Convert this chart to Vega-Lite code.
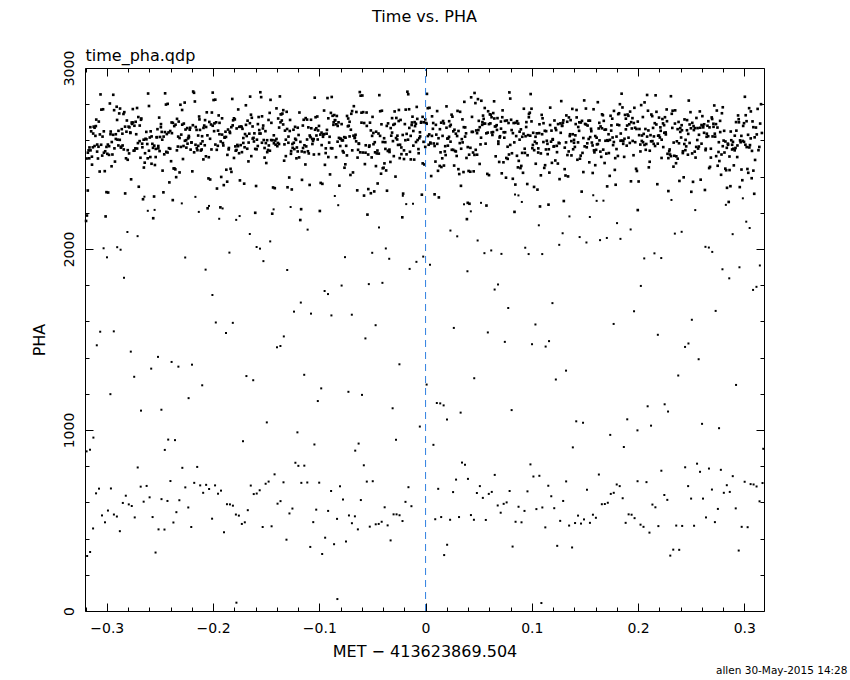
{
"$schema": "https://vega.github.io/schema/vega-lite/v6.json",
"width": 679, "height": 543,
"autosize": {"type": "none"},
"padding": {"left": 85, "top": 68, "right": 86, "bottom": 69},
"background": "white",
"title": {"text": "Time vs. PHA", "anchor": "middle", "font": "DejaVu Sans", "fontSize": 16, "fontWeight": "normal", "color": "#000", "offset": 9, "baseline": "alphabetic"},
"config": {
  "view": {"stroke": "#000", "strokeWidth": 1},
  "axis": {"domain": false, "grid": false, "tickColor": "#000", "labelColor": "#000", "titleColor": "#000", "labelFont": "DejaVu Sans", "titleFont": "DejaVu Sans", "labelFontSize": 14, "titleFontSize": 16, "titleFontWeight": "normal", "tickWidth": 1, "labelFlush": false, "labelOverlap": false}
},
"resolve": {"scale": {"x": "independent", "y": "independent"}},
"layer": [
{
"encoding": {
  "x": {"field": "x", "type": "quantitative", "scale": {"domain": [-0.3205, 0.3185], "nice": false, "zero": false},
    "axis": {"orient": "bottom", "values": [-0.32,-0.3,-0.28,-0.26,-0.24,-0.22,-0.2,-0.18,-0.16,-0.14,-0.12,-0.1,-0.08,-0.06,-0.04,-0.02,0,0.02,0.04,0.06,0.08,0.1,0.12,0.14,0.16,0.18,0.2,0.22,0.24,0.26,0.28,0.3],
      "labelExpr": "abs(datum.value*10 - round(datum.value*10)) < 0.001 ? format(datum.value, '.1~f') : ''",
      "tickSize": {"condition": {"test": "abs(datum.value*10 - round(datum.value*10)) < 0.001", "value": -8}, "value": -4},
      "labelPadding": 29, "labelBaseline": "alphabetic",
      "title": "MET − 413623869.504", "titleX": 339.5, "titleY": 45, "titleBaseline": "alphabetic", "titleAlign": "center"}},
  "y": {"field": "y", "type": "quantitative", "scale": {"domain": [0, 3000], "nice": false, "zero": false},
    "axis": {"orient": "left", "values": [0,200,400,600,800,1000,1200,1400,1600,1800,2000,2200,2400,2600,2800,3000],
      "labelExpr": "datum.value % 1000 === 0 ? format(datum.value, 'd') : ''",
      "tickSize": {"condition": {"test": "datum.value % 1000 === 0", "value": -8}, "value": -4},
      "labelAngle": -90, "labelAlign": "center", "labelBaseline": "alphabetic", "labelPadding": 19.5,
      "title": "PHA", "titleX": -41, "titleY": 271.5, "titleAngle": -90, "titleAlign": "center", "titleBaseline": "alphabetic"}}
},
"layer": [
{
"data": {"values": [
{"x":-0.3195,"y":2155},{"x":-0.3187,"y":2185},{"x":-0.3179,"y":2323},{"x":-0.3171,"y":2545},{"x":-0.3163,"y":2561},{"x":-0.3155,"y":2673},{"x":-0.3147,"y":2650},{"x":-0.3139,"y":2466},{"x":-0.3131,"y":2562},{"x":-0.3123,"y":2676},
{"x":-0.3115,"y":2670},{"x":-0.3107,"y":2625},{"x":-0.3099,"y":2715},{"x":-0.3091,"y":2538},{"x":-0.3083,"y":2500},{"x":-0.3075,"y":2704},{"x":-0.3067,"y":2428},{"x":-0.3059,"y":2854},{"x":-0.3051,"y":2770},{"x":-0.3043,"y":2516},
{"x":-0.3035,"y":2772},{"x":-0.3027,"y":2532},{"x":-0.3019,"y":2430},{"x":-0.3011,"y":2180},{"x":-0.3003,"y":2314},{"x":-0.2995,"y":2526},{"x":-0.2987,"y":2312},{"x":-0.2979,"y":2520},{"x":-0.2971,"y":2804},{"x":-0.2963,"y":2649},
{"x":-0.2955,"y":2457},{"x":-0.2947,"y":2522},{"x":-0.2939,"y":2852},{"x":-0.2931,"y":2767},{"x":-0.2923,"y":2483},{"x":-0.2915,"y":2634},{"x":-0.2907,"y":2786},{"x":-0.2899,"y":2604},{"x":-0.2891,"y":2572},{"x":-0.2883,"y":2749},
{"x":-0.2875,"y":2776},{"x":-0.2867,"y":2560},{"x":-0.2859,"y":2662},{"x":-0.2851,"y":2572},{"x":-0.2843,"y":2746},{"x":-0.2835,"y":2756},{"x":-0.2827,"y":2307},{"x":-0.2819,"y":2501},{"x":-0.2811,"y":2710},{"x":-0.2803,"y":2493},
{"x":-0.2795,"y":2676},{"x":-0.2787,"y":2672},{"x":-0.2779,"y":2644},{"x":-0.2771,"y":2385},{"x":-0.2763,"y":2691},{"x":-0.2755,"y":2773},{"x":-0.2747,"y":2543},{"x":-0.2739,"y":2544},{"x":-0.2731,"y":2556},{"x":-0.2723,"y":2634},
{"x":-0.2715,"y":2779},{"x":-0.2707,"y":2585},{"x":-0.2699,"y":2344},{"x":-0.2691,"y":2596},{"x":-0.2683,"y":2504},{"x":-0.2675,"y":2721},{"x":-0.2667,"y":2582},{"x":-0.2659,"y":2275},{"x":-0.2651,"y":2450},{"x":-0.2643,"y":2477},
{"x":-0.2635,"y":2609},{"x":-0.2627,"y":2606},{"x":-0.2619,"y":2580},{"x":-0.2611,"y":2859},{"x":-0.2603,"y":2790},{"x":-0.2595,"y":2616},{"x":-0.2587,"y":2650},{"x":-0.2579,"y":2471},{"x":-0.2571,"y":2581},{"x":-0.2563,"y":2170},
{"x":-0.2555,"y":2290},{"x":-0.2547,"y":2464},{"x":-0.2539,"y":2553},{"x":-0.2531,"y":2617},{"x":-0.2523,"y":2662},{"x":-0.2515,"y":2569},{"x":-0.2507,"y":2726},{"x":-0.2499,"y":2619},{"x":-0.2491,"y":2673},{"x":-0.2483,"y":2647},
{"x":-0.2475,"y":2433},{"x":-0.2467,"y":2313},{"x":-0.2459,"y":2523},{"x":-0.2451,"y":2860},{"x":-0.2443,"y":2798},{"x":-0.2435,"y":2635},{"x":-0.2427,"y":2802},{"x":-0.2419,"y":2644},{"x":-0.2411,"y":2368},{"x":-0.2403,"y":2652},
{"x":-0.2395,"y":2485},{"x":-0.2387,"y":2640},{"x":-0.2379,"y":2270},{"x":-0.2371,"y":2445},{"x":-0.2363,"y":2445},{"x":-0.2355,"y":2440},{"x":-0.2347,"y":2397},{"x":-0.2339,"y":2719},{"x":-0.2331,"y":2566},{"x":-0.2323,"y":2704},
{"x":-0.2315,"y":2423},{"x":-0.2307,"y":2797},{"x":-0.2299,"y":2632},{"x":-0.2291,"y":2768},{"x":-0.2283,"y":2497},{"x":-0.2275,"y":2693},{"x":-0.2267,"y":2809},{"x":-0.2259,"y":2660},{"x":-0.2251,"y":2560},{"x":-0.2243,"y":2668},
{"x":-0.2235,"y":2611},{"x":-0.2227,"y":2617},{"x":-0.2219,"y":2659},{"x":-0.2211,"y":2549},{"x":-0.2203,"y":2589},{"x":-0.2195,"y":2429},{"x":-0.2187,"y":2870},{"x":-0.2179,"y":2863},{"x":-0.2171,"y":2815},{"x":-0.2163,"y":2674},
{"x":-0.2155,"y":2658},{"x":-0.2147,"y":2546},{"x":-0.2139,"y":2570},{"x":-0.2131,"y":2732},{"x":-0.2123,"y":2658},{"x":-0.2115,"y":2544},{"x":-0.2107,"y":2550},{"x":-0.2099,"y":2595},{"x":-0.2091,"y":2495},{"x":-0.2083,"y":2682},
{"x":-0.2075,"y":2712},{"x":-0.2067,"y":2512},{"x":-0.2059,"y":2755},{"x":-0.2051,"y":2225},{"x":-0.2043,"y":2390},{"x":-0.2035,"y":2702},{"x":-0.2027,"y":2384},{"x":-0.2019,"y":2688},{"x":-0.2011,"y":2754},{"x":-0.2003,"y":2864},
{"x":-0.1995,"y":2823},{"x":-0.1987,"y":2694},{"x":-0.1979,"y":2825},{"x":-0.1971,"y":2700},{"x":-0.1963,"y":2334},{"x":-0.1955,"y":2570},{"x":-0.1947,"y":2738},{"x":-0.1939,"y":2697},{"x":-0.1931,"y":2230},{"x":-0.1923,"y":2398},
{"x":-0.1915,"y":2722},{"x":-0.1907,"y":2585},{"x":-0.1899,"y":2353},{"x":-0.1891,"y":2615},{"x":-0.1883,"y":2648},{"x":-0.1875,"y":2438},{"x":-0.1867,"y":2372},{"x":-0.1859,"y":2660},{"x":-0.1851,"y":2558},{"x":-0.1843,"y":2648},
{"x":-0.1835,"y":2443},{"x":-0.1827,"y":2426},{"x":-0.1819,"y":2829},{"x":-0.1811,"y":2711},{"x":-0.1803,"y":2503},{"x":-0.1795,"y":2716},{"x":-0.1787,"y":2543},{"x":-0.1779,"y":2547},{"x":-0.1771,"y":2575},{"x":-0.1763,"y":2771},
{"x":-0.1755,"y":2529},{"x":-0.1747,"y":2379},{"x":-0.1739,"y":2677},{"x":-0.1731,"y":2675},{"x":-0.1723,"y":2664},{"x":-0.1715,"y":2586},{"x":-0.1707,"y":2361},{"x":-0.1699,"y":2635},{"x":-0.1691,"y":2794},{"x":-0.1683,"y":2624},
{"x":-0.1675,"y":2709},{"x":-0.1667,"y":2484},{"x":-0.1659,"y":2637},{"x":-0.1651,"y":2842},{"x":-0.1643,"y":2742},{"x":-0.1635,"y":2725},{"x":-0.1627,"y":2610},{"x":-0.1619,"y":2614},{"x":-0.1611,"y":2639},{"x":-0.1603,"y":2200},
{"x":-0.1595,"y":2348},{"x":-0.1587,"y":2604},{"x":-0.1579,"y":2569},{"x":-0.1571,"y":2729},{"x":-0.1563,"y":2638},{"x":-0.1555,"y":2866},{"x":-0.1547,"y":2839},{"x":-0.1539,"y":2733},{"x":-0.1531,"y":2666},{"x":-0.1523,"y":2602},
{"x":-0.1515,"y":2558},{"x":-0.1507,"y":2651},{"x":-0.1499,"y":2475},{"x":-0.1491,"y":2601},{"x":-0.1483,"y":2547},{"x":-0.1475,"y":2572},{"x":-0.1467,"y":2752},{"x":-0.1459,"y":2824},{"x":-0.1451,"y":2697},{"x":-0.1443,"y":2195},
{"x":-0.1435,"y":2340},{"x":-0.1427,"y":2584},{"x":-0.1419,"y":2336},{"x":-0.1411,"y":2576},{"x":-0.1403,"y":2777},{"x":-0.1395,"y":2568},{"x":-0.1387,"y":2721},{"x":-0.1379,"y":2580},{"x":-0.1371,"y":2843},{"x":-0.1363,"y":2744},
{"x":-0.1355,"y":2745},{"x":-0.1347,"y":2748},{"x":-0.1339,"y":2767},{"x":-0.1331,"y":2488},{"x":-0.1323,"y":2654},{"x":-0.1315,"y":2513},{"x":-0.1307,"y":2758},{"x":-0.1299,"y":2341},{"x":-0.1291,"y":2587},{"x":-0.1283,"y":2395},
{"x":-0.1275,"y":2713},{"x":-0.1267,"y":2526},{"x":-0.1259,"y":2329},{"x":-0.1251,"y":2559},{"x":-0.1243,"y":2659},{"x":-0.1235,"y":2552},{"x":-0.1227,"y":2609},{"x":-0.1219,"y":2603},{"x":-0.1211,"y":2561},{"x":-0.1203,"y":2670},
{"x":-0.1195,"y":2630},{"x":-0.1187,"y":2754},{"x":-0.1179,"y":2160},{"x":-0.1171,"y":2220},{"x":-0.1163,"y":2382},{"x":-0.1155,"y":2682},{"x":-0.1147,"y":2714},{"x":-0.1139,"y":2535},{"x":-0.1131,"y":2467},{"x":-0.1123,"y":2567},
{"x":-0.1115,"y":2715},{"x":-0.1107,"y":2540},{"x":-0.1099,"y":2528},{"x":-0.1091,"y":2354},{"x":-0.1083,"y":2618},{"x":-0.1075,"y":2667},{"x":-0.1067,"y":2608},{"x":-0.1059,"y":2597},{"x":-0.1051,"y":2522},{"x":-0.1043,"y":2836},
{"x":-0.1035,"y":2728},{"x":-0.1027,"y":2627},{"x":-0.1019,"y":2732},{"x":-0.1011,"y":2655},{"x":-0.1003,"y":2524},{"x":-0.0995,"y":2210},{"x":-0.0987,"y":2365},{"x":-0.0979,"y":2643},{"x":-0.0971,"y":2360},{"x":-0.0963,"y":2632},
{"x":-0.0955,"y":2765},{"x":-0.0947,"y":2465},{"x":-0.0939,"y":2556},{"x":-0.0931,"y":2637},{"x":-0.0923,"y":2834},{"x":-0.0915,"y":2722},{"x":-0.0907,"y":2588},{"x":-0.0899,"y":2412},{"x":-0.0891,"y":2752},{"x":-0.0883,"y":2840},
{"x":-0.0875,"y":2736},{"x":-0.0867,"y":2686},{"x":-0.0859,"y":2740},{"x":-0.0851,"y":2711},{"x":-0.0843,"y":2507},{"x":-0.0835,"y":2735},{"x":-0.0827,"y":2680},{"x":-0.0819,"y":2700},{"x":-0.0811,"y":2350},{"x":-0.0803,"y":2610},
{"x":-0.0795,"y":2608},{"x":-0.0787,"y":2600},{"x":-0.0779,"y":2541},{"x":-0.0771,"y":2533},{"x":-0.0763,"y":2449},{"x":-0.0755,"y":2468},{"x":-0.0747,"y":2570},{"x":-0.0739,"y":2735},{"x":-0.0731,"y":2678},{"x":-0.0723,"y":2681},
{"x":-0.0715,"y":2703},{"x":-0.0707,"y":2409},{"x":-0.0699,"y":2747},{"x":-0.0691,"y":2762},{"x":-0.0683,"y":2423},{"x":-0.0675,"y":2789},{"x":-0.0667,"y":2613},{"x":-0.0659,"y":2631},{"x":-0.0651,"y":2757},{"x":-0.0643,"y":2324},
{"x":-0.0635,"y":2548},{"x":-0.0627,"y":2581},{"x":-0.0619,"y":2867},{"x":-0.0611,"y":2847},{"x":-0.0603,"y":2753},{"x":-0.0595,"y":2848},{"x":-0.0587,"y":2756},{"x":-0.0579,"y":2295},{"x":-0.0571,"y":2469},{"x":-0.0563,"y":2573},
{"x":-0.0555,"y":2754},{"x":-0.0547,"y":2190},{"x":-0.0539,"y":2331},{"x":-0.0531,"y":2565},{"x":-0.0523,"y":2698},{"x":-0.0515,"y":2308},{"x":-0.0507,"y":2506},{"x":-0.0499,"y":2730},{"x":-0.0491,"y":2641},{"x":-0.0483,"y":2318},
{"x":-0.0475,"y":2534},{"x":-0.0467,"y":2458},{"x":-0.0459,"y":2528},{"x":-0.0451,"y":2362},{"x":-0.0443,"y":2638},{"x":-0.0435,"y":2850},{"x":-0.0427,"y":2761},{"x":-0.0419,"y":2416},{"x":-0.0411,"y":2764},{"x":-0.0403,"y":2446},
{"x":-0.0395,"y":2449},{"x":-0.0387,"y":2473},{"x":-0.0379,"y":2590},{"x":-0.0371,"y":2434},{"x":-0.0363,"y":2322},{"x":-0.0355,"y":2542},{"x":-0.0347,"y":2542},{"x":-0.0339,"y":2536},{"x":-0.0331,"y":2481},{"x":-0.0323,"y":2626},
{"x":-0.0315,"y":2723},{"x":-0.0307,"y":2596},{"x":-0.0299,"y":2513},{"x":-0.0291,"y":2760},{"x":-0.0283,"y":2400},{"x":-0.0275,"y":2724},{"x":-0.0267,"y":2605},{"x":-0.0259,"y":2575},{"x":-0.0251,"y":2768},{"x":-0.0243,"y":2502},
{"x":-0.0235,"y":2713},{"x":-0.0227,"y":2524},{"x":-0.0219,"y":2175},{"x":-0.0211,"y":2306},{"x":-0.0203,"y":2497},{"x":-0.0195,"y":2690},{"x":-0.0187,"y":2770},{"x":-0.0179,"y":2523},{"x":-0.0171,"y":2869},{"x":-0.0163,"y":2855},
{"x":-0.0155,"y":2772},{"x":-0.0147,"y":2537},{"x":-0.0139,"y":2495},{"x":-0.0131,"y":2685},{"x":-0.0123,"y":2731},{"x":-0.0115,"y":2652},{"x":-0.0107,"y":2494},{"x":-0.0099,"y":2679},{"x":-0.0091,"y":2692},{"x":-0.0083,"y":2785},
{"x":-0.0075,"y":2602},{"x":-0.0067,"y":2552},{"x":-0.0059,"y":2612},{"x":-0.0051,"y":2622},{"x":-0.0043,"y":2698},{"x":-0.0035,"y":2300},{"x":-0.0027,"y":2473},{"x":-0.0019,"y":2592},{"x":-0.0011,"y":2467},{"x":-0.0003,"y":2564},
{"x":0.0005,"y":2696},{"x":0.0013,"y":2857},{"x":0.0021,"y":2778},{"x":0.0029,"y":2576},{"x":0.0037,"y":2780},{"x":0.0045,"y":2588},{"x":0.0053,"y":2403},{"x":0.0061,"y":2733},{"x":0.0069,"y":2664},{"x":0.0077,"y":2583},
{"x":0.0085,"y":2302},{"x":0.0093,"y":2483},{"x":0.0101,"y":2632},{"x":0.0109,"y":2762},{"x":0.0117,"y":2432},{"x":0.0125,"y":2285},{"x":0.0133,"y":2459},{"x":0.0141,"y":2534},{"x":0.0149,"y":2453},{"x":0.0157,"y":2501},
{"x":0.0165,"y":2707},{"x":0.0173,"y":2461},{"x":0.0181,"y":2539},{"x":0.0189,"y":2519},{"x":0.0197,"y":2788},{"x":0.0205,"y":2610},{"x":0.0213,"y":2611},{"x":0.0221,"y":2620},{"x":0.0229,"y":2678},{"x":0.0237,"y":2686},
{"x":0.0245,"y":2742},{"x":0.0253,"y":2731},{"x":0.0261,"y":2650},{"x":0.0269,"y":2461},{"x":0.0277,"y":2542},{"x":0.0285,"y":2539},{"x":0.0293,"y":2514},{"x":0.0301,"y":2763},{"x":0.0309,"y":2441},{"x":0.0317,"y":2414},
{"x":0.0325,"y":2758},{"x":0.0333,"y":2349},{"x":0.0341,"y":2607},{"x":0.0349,"y":2589},{"x":0.0357,"y":2425},{"x":0.0365,"y":2813},{"x":0.0373,"y":2672},{"x":0.0381,"y":2639},{"x":0.0389,"y":2165},{"x":0.0397,"y":2255},
{"x":0.0405,"y":2431},{"x":0.0413,"y":2250},{"x":0.0421,"y":2427},{"x":0.0429,"y":2838},{"x":0.0437,"y":2730},{"x":0.0445,"y":2647},{"x":0.0453,"y":2429},{"x":0.0461,"y":2862},{"x":0.0469,"y":2806},{"x":0.0477,"y":2655},
{"x":0.0485,"y":2521},{"x":0.0493,"y":2828},{"x":0.0501,"y":2708},{"x":0.0509,"y":2470},{"x":0.0517,"y":2578},{"x":0.0525,"y":2819},{"x":0.0533,"y":2686},{"x":0.0541,"y":2737},{"x":0.0549,"y":2692},{"x":0.0557,"y":2779},
{"x":0.0565,"y":2582},{"x":0.0573,"y":2240},{"x":0.0581,"y":2415},{"x":0.0589,"y":2761},{"x":0.0597,"y":2408},{"x":0.0605,"y":2744},{"x":0.0613,"y":2742},{"x":0.0621,"y":2728},{"x":0.0629,"y":2630},{"x":0.0637,"y":2751},
{"x":0.0645,"y":2816},{"x":0.0653,"y":2677},{"x":0.0661,"y":2678},{"x":0.0669,"y":2684},{"x":0.0677,"y":2723},{"x":0.0685,"y":2594},{"x":0.0693,"y":2481},{"x":0.0701,"y":2623},{"x":0.0709,"y":2704},{"x":0.0717,"y":2418},
{"x":0.0725,"y":2766},{"x":0.0733,"y":2479},{"x":0.0741,"y":2615},{"x":0.0749,"y":2645},{"x":0.0757,"y":2394},{"x":0.0765,"y":2710},{"x":0.0773,"y":2498},{"x":0.0781,"y":2696},{"x":0.0789,"y":2865},{"x":0.0797,"y":2831},
{"x":0.0805,"y":2714},{"x":0.0813,"y":2529},{"x":0.0821,"y":2388},{"x":0.0829,"y":2696},{"x":0.0837,"y":2205},{"x":0.0845,"y":2356},{"x":0.0853,"y":2624},{"x":0.0861,"y":2706},{"x":0.0869,"y":2451},{"x":0.0877,"y":2487},
{"x":0.0885,"y":2648},{"x":0.0893,"y":2447},{"x":0.0901,"y":2459},{"x":0.0909,"y":2531},{"x":0.0917,"y":2421},{"x":0.0925,"y":2775},{"x":0.0933,"y":2554},{"x":0.0941,"y":2623},{"x":0.0949,"y":2701},{"x":0.0957,"y":2359},
{"x":0.0965,"y":2629},{"x":0.0973,"y":2746},{"x":0.0981,"y":2753},{"x":0.0989,"y":2856},{"x":0.0997,"y":2775},{"x":0.1005,"y":2557},{"x":0.1013,"y":2642},{"x":0.1021,"y":2343},{"x":0.1029,"y":2593},{"x":0.1037,"y":2471},
{"x":0.1045,"y":2584},{"x":0.1053,"y":2328},{"x":0.1061,"y":2556},{"x":0.1069,"y":2640},{"x":0.1077,"y":2235},{"x":0.1085,"y":2407},{"x":0.1093,"y":2741},{"x":0.1101,"y":2722},{"x":0.1109,"y":2591},{"x":0.1117,"y":2448},
{"x":0.1125,"y":2463},{"x":0.1133,"y":2550},{"x":0.1141,"y":2598},{"x":0.1149,"y":2524},{"x":0.1157,"y":2245},{"x":0.1165,"y":2422},{"x":0.1173,"y":2781},{"x":0.1181,"y":2593},{"x":0.1189,"y":2476},{"x":0.1197,"y":2604},
{"x":0.1205,"y":2566},{"x":0.1213,"y":2710},{"x":0.1221,"y":2489},{"x":0.1229,"y":2657},{"x":0.1237,"y":2535},{"x":0.1245,"y":2472},{"x":0.1253,"y":2587},{"x":0.1261,"y":2386},{"x":0.1269,"y":2694},{"x":0.1277,"y":2817},
{"x":0.1285,"y":2680},{"x":0.1293,"y":2698},{"x":0.1301,"y":2265},{"x":0.1309,"y":2441},{"x":0.1317,"y":2406},{"x":0.1325,"y":2738},{"x":0.1333,"y":2703},{"x":0.1341,"y":2401},{"x":0.1349,"y":2727},{"x":0.1357,"y":2624},
{"x":0.1365,"y":2712},{"x":0.1373,"y":2517},{"x":0.1381,"y":2774},{"x":0.1389,"y":2551},{"x":0.1397,"y":2603},{"x":0.1405,"y":2564},{"x":0.1413,"y":2690},{"x":0.1421,"y":2768},{"x":0.1429,"y":2493},{"x":0.1437,"y":2674},
{"x":0.1445,"y":2653},{"x":0.1453,"y":2499},{"x":0.1461,"y":2699},{"x":0.1469,"y":2317},{"x":0.1477,"y":2531},{"x":0.1485,"y":2425},{"x":0.1493,"y":2821},{"x":0.1501,"y":2691},{"x":0.1509,"y":2776},{"x":0.1517,"y":2562},
{"x":0.1525,"y":2682},{"x":0.1533,"y":2709},{"x":0.1541,"y":2479},{"x":0.1549,"y":2618},{"x":0.1557,"y":2664},{"x":0.1565,"y":2588},{"x":0.1573,"y":2420},{"x":0.1581,"y":2772},{"x":0.1589,"y":2534},{"x":0.1597,"y":2463},
{"x":0.1605,"y":2548},{"x":0.1613,"y":2578},{"x":0.1621,"y":2811},{"x":0.1629,"y":2666},{"x":0.1637,"y":2600},{"x":0.1645,"y":2538},{"x":0.1653,"y":2509},{"x":0.1661,"y":2744},{"x":0.1669,"y":2739},{"x":0.1677,"y":2708},
{"x":0.1685,"y":2475},{"x":0.1693,"y":2598},{"x":0.1701,"y":2527},{"x":0.1709,"y":2346},{"x":0.1717,"y":2598},{"x":0.1725,"y":2530},{"x":0.1733,"y":2404},{"x":0.1741,"y":2736},{"x":0.1749,"y":2683},{"x":0.1757,"y":2720},
{"x":0.1765,"y":2574},{"x":0.1773,"y":2763},{"x":0.1781,"y":2437},{"x":0.1789,"y":2355},{"x":0.1797,"y":2621},{"x":0.1805,"y":2687},{"x":0.1813,"y":2745},{"x":0.1821,"y":2750},{"x":0.1829,"y":2800},{"x":0.1837,"y":2638},
{"x":0.1845,"y":2858},{"x":0.1853,"y":2782},{"x":0.1861,"y":2596},{"x":0.1869,"y":2509},{"x":0.1877,"y":2741},{"x":0.1885,"y":2720},{"x":0.1893,"y":2571},{"x":0.1901,"y":2743},{"x":0.1909,"y":2736},{"x":0.1917,"y":2689},
{"x":0.1925,"y":2759},{"x":0.1933,"y":2374},{"x":0.1941,"y":2666},{"x":0.1949,"y":2597},{"x":0.1957,"y":2518},{"x":0.1965,"y":2780},{"x":0.1973,"y":2590},{"x":0.1981,"y":2443},{"x":0.1989,"y":2431},{"x":0.1997,"y":2215},
{"x":0.2005,"y":2373},{"x":0.2013,"y":2663},{"x":0.2021,"y":2577},{"x":0.2029,"y":2795},{"x":0.2037,"y":2627},{"x":0.2045,"y":2729},{"x":0.2053,"y":2636},{"x":0.2061,"y":2810},{"x":0.2069,"y":2663},{"x":0.2077,"y":2580},
{"x":0.2085,"y":2851},{"x":0.2093,"y":2764},{"x":0.2101,"y":2451},{"x":0.2109,"y":2482},{"x":0.2117,"y":2629},{"x":0.2125,"y":2743},{"x":0.2133,"y":2734},{"x":0.2141,"y":2669},{"x":0.2149,"y":2622},{"x":0.2157,"y":2695},
{"x":0.2165,"y":2849},{"x":0.2173,"y":2758},{"x":0.2181,"y":2358},{"x":0.2189,"y":2626},{"x":0.2197,"y":2726},{"x":0.2205,"y":2616},{"x":0.2213,"y":2653},{"x":0.2221,"y":2503},{"x":0.2229,"y":2718},{"x":0.2237,"y":2563},
{"x":0.2245,"y":2684},{"x":0.2253,"y":2728},{"x":0.2261,"y":2633},{"x":0.2269,"y":2771},{"x":0.2277,"y":2526},{"x":0.2285,"y":2320},{"x":0.2293,"y":2540},{"x":0.2301,"y":2522},{"x":0.2309,"y":2844},{"x":0.2317,"y":2747},
{"x":0.2325,"y":2764},{"x":0.2333,"y":2455},{"x":0.2341,"y":2515},{"x":0.2349,"y":2766},{"x":0.2357,"y":2474},{"x":0.2365,"y":2595},{"x":0.2373,"y":2499},{"x":0.2381,"y":2702},{"x":0.2389,"y":2376},{"x":0.2397,"y":2668},
{"x":0.2405,"y":2616},{"x":0.2413,"y":2656},{"x":0.2421,"y":2530},{"x":0.2429,"y":2396},{"x":0.2437,"y":2716},{"x":0.2445,"y":2546},{"x":0.2453,"y":2567},{"x":0.2461,"y":2712},{"x":0.2469,"y":2521},{"x":0.2477,"y":2820},
{"x":0.2485,"y":2688},{"x":0.2493,"y":2756},{"x":0.2501,"y":2316},{"x":0.2509,"y":2528},{"x":0.2517,"y":2371},{"x":0.2525,"y":2657},{"x":0.2533,"y":2538},{"x":0.2541,"y":2505},{"x":0.2549,"y":2724},{"x":0.2557,"y":2602},
{"x":0.2565,"y":2555},{"x":0.2573,"y":2631},{"x":0.2581,"y":2760},{"x":0.2589,"y":2383},{"x":0.2597,"y":2685},{"x":0.2605,"y":2734},{"x":0.2613,"y":2672},{"x":0.2621,"y":2642},{"x":0.2629,"y":2326},{"x":0.2637,"y":2554},
{"x":0.2645,"y":2620},{"x":0.2653,"y":2681},{"x":0.2661,"y":2706},{"x":0.2669,"y":2447},{"x":0.2677,"y":2454},{"x":0.2685,"y":2505},{"x":0.2693,"y":2727},{"x":0.2701,"y":2622},{"x":0.2709,"y":2692},{"x":0.2717,"y":2793},
{"x":0.2725,"y":2621},{"x":0.2733,"y":2690},{"x":0.2741,"y":2765},{"x":0.2749,"y":2460},{"x":0.2757,"y":2536},{"x":0.2765,"y":2486},{"x":0.2773,"y":2646},{"x":0.2781,"y":2410},{"x":0.2789,"y":2750},{"x":0.2797,"y":2783},
{"x":0.2805,"y":2599},{"x":0.2813,"y":2533},{"x":0.2821,"y":2444},{"x":0.2829,"y":2435},{"x":0.2837,"y":2338},{"x":0.2845,"y":2582},{"x":0.2853,"y":2260},{"x":0.2861,"y":2436},{"x":0.2869,"y":2347},{"x":0.2877,"y":2601},
{"x":0.2885,"y":2550},{"x":0.2893,"y":2592},{"x":0.2901,"y":2462},{"x":0.2909,"y":2545},{"x":0.2917,"y":2558},{"x":0.2925,"y":2654},{"x":0.2933,"y":2508},{"x":0.2941,"y":2738},{"x":0.2949,"y":2700},{"x":0.2957,"y":2342},
{"x":0.2965,"y":2590},{"x":0.2973,"y":2439},{"x":0.2981,"y":2380},{"x":0.2989,"y":2680},{"x":0.2997,"y":2695},{"x":0.3005,"y":2841},{"x":0.3013,"y":2739},{"x":0.3021,"y":2706},{"x":0.3029,"y":2442},{"x":0.3037,"y":2421},
{"x":0.3045,"y":2778},{"x":0.3053,"y":2574},{"x":0.3061,"y":2760},{"x":0.3069,"y":2391},{"x":0.3077,"y":2705},{"x":0.3085,"y":2433},{"x":0.3093,"y":2305},{"x":0.3101,"y":2492},{"x":0.3109,"y":2671},{"x":0.3117,"y":2633},
{"x":0.3125,"y":2774},{"x":0.3133,"y":2546},{"x":0.3141,"y":2564},{"x":0.3149,"y":2693},{"x":0.3157,"y":2800},{"x":0.3165,"y":2641},
{"x":-0.319,"y":2500},{"x":-0.3165,"y":2501},{"x":-0.314,"y":2510},{"x":-0.3115,"y":2569},{"x":-0.309,"y":2577},{"x":-0.3065,"y":2633},{"x":-0.304,"y":2621},{"x":-0.3015,"y":2540},{"x":-0.299,"y":2577},{"x":-0.2965,"y":2634},{"x":-0.294,"y":2631},{"x":-0.2915,"y":2608},
{"x":-0.289,"y":2653},{"x":-0.2865,"y":2565},{"x":-0.284,"y":2550},{"x":-0.2815,"y":2648},{"x":-0.279,"y":2528},{"x":-0.2765,"y":2699},{"x":-0.274,"y":2681},{"x":-0.2715,"y":2555},{"x":-0.269,"y":2682},{"x":-0.2665,"y":2562},{"x":-0.264,"y":2529},{"x":-0.2615,"y":2501},
{"x":-0.259,"y":2508},{"x":-0.2565,"y":2559},{"x":-0.254,"y":2508},{"x":-0.2515,"y":2556},{"x":-0.249,"y":2690},{"x":-0.2465,"y":2621},{"x":-0.244,"y":2537},{"x":-0.2415,"y":2557},{"x":-0.239,"y":2699},{"x":-0.2365,"y":2679},{"x":-0.234,"y":2545},{"x":-0.2315,"y":2613},
{"x":-0.229,"y":2687},{"x":-0.2265,"y":2598},{"x":-0.224,"y":2582},{"x":-0.2215,"y":2670},{"x":-0.219,"y":2684},{"x":-0.2165,"y":2576},{"x":-0.214,"y":2627},{"x":-0.2115,"y":2582},{"x":-0.209,"y":2669},{"x":-0.2065,"y":2674},{"x":-0.204,"y":2507},{"x":-0.2015,"y":2550},
{"x":-0.199,"y":2651},{"x":-0.1965,"y":2548},{"x":-0.194,"y":2634},{"x":-0.1915,"y":2632},{"x":-0.189,"y":2618},{"x":-0.1865,"y":2520},{"x":-0.184,"y":2641},{"x":-0.1815,"y":2683},{"x":-0.179,"y":2567},{"x":-0.1765,"y":2568},{"x":-0.174,"y":2574},{"x":-0.1715,"y":2613},
{"x":-0.169,"y":2686},{"x":-0.1665,"y":2588},{"x":-0.164,"y":2513},{"x":-0.1615,"y":2594},{"x":-0.159,"y":2551},{"x":-0.1565,"y":2657},{"x":-0.154,"y":2587},{"x":-0.1515,"y":2505},{"x":-0.149,"y":2535},{"x":-0.1465,"y":2543},{"x":-0.144,"y":2601},{"x":-0.1415,"y":2599},
{"x":-0.139,"y":2586},{"x":-0.1365,"y":2700},{"x":-0.134,"y":2688},{"x":-0.1315,"y":2604},{"x":-0.129,"y":2621},{"x":-0.1265,"y":2541},{"x":-0.124,"y":2587},{"x":-0.1215,"y":2501},{"x":-0.119,"y":2506},{"x":-0.1165,"y":2539},{"x":-0.114,"y":2573},{"x":-0.1115,"y":2605},
{"x":-0.109,"y":2627},{"x":-0.1065,"y":2580},{"x":-0.104,"y":2659},{"x":-0.1015,"y":2605},{"x":-0.099,"y":2632},{"x":-0.0965,"y":2620},{"x":-0.094,"y":2530},{"x":-0.0915,"y":2508},{"x":-0.089,"y":2557},{"x":-0.0865,"y":2700},{"x":-0.084,"y":2689},{"x":-0.0815,"y":2614},
{"x":-0.079,"y":2690},{"x":-0.0765,"y":2618},{"x":-0.074,"y":2517},{"x":-0.0715,"y":2622},{"x":-0.069,"y":2545},{"x":-0.0665,"y":2616},{"x":-0.064,"y":2505},{"x":-0.0615,"y":2534},{"x":-0.059,"y":2533},{"x":-0.0565,"y":2532},{"x":-0.054,"y":2522},{"x":-0.0515,"y":2655},
{"x":-0.049,"y":2579},{"x":-0.0465,"y":2648},{"x":-0.044,"y":2527},{"x":-0.0415,"y":2689},{"x":-0.039,"y":2612},{"x":-0.0365,"y":2680},{"x":-0.034,"y":2549},{"x":-0.0315,"y":2643},{"x":-0.029,"y":2691},{"x":-0.0265,"y":2626},{"x":-0.024,"y":2576},{"x":-0.0215,"y":2630},
{"x":-0.019,"y":2601},{"x":-0.0165,"y":2604},{"x":-0.014,"y":2625},{"x":-0.0115,"y":2571},{"x":-0.009,"y":2591},{"x":-0.0065,"y":2529},{"x":-0.004,"y":2702},{"x":-0.0015,"y":2700},{"x":0.001,"y":2692},{"x":0.0035,"y":2633},{"x":0.006,"y":2625},{"x":0.0085,"y":2569},
{"x":0.011,"y":2581},{"x":0.0135,"y":2662},{"x":0.016,"y":2625},{"x":0.0185,"y":2568},{"x":0.021,"y":2571},{"x":0.0235,"y":2593},{"x":0.026,"y":2548},{"x":0.0285,"y":2637},{"x":0.031,"y":2652},{"x":0.0335,"y":2554},{"x":0.036,"y":2673},{"x":0.0385,"y":2503},
{"x":0.041,"y":2521},{"x":0.0435,"y":2647},{"x":0.046,"y":2520},{"x":0.0485,"y":2640},{"x":0.051,"y":2673},{"x":0.0535,"y":2701},{"x":0.056,"y":2693},{"x":0.0585,"y":2643},{"x":0.061,"y":2694},{"x":0.0635,"y":2646},{"x":0.066,"y":2512},{"x":0.0685,"y":2581},
{"x":0.071,"y":2665},{"x":0.0735,"y":2645},{"x":0.076,"y":2503},{"x":0.0785,"y":2522},{"x":0.081,"y":2657},{"x":0.0835,"y":2589},{"x":0.086,"y":2515},{"x":0.0885,"y":2604},{"x":0.091,"y":2620},{"x":0.0935,"y":2531},{"x":0.096,"y":2518},{"x":0.0985,"y":2626},
{"x":0.101,"y":2575},{"x":0.1035,"y":2620},{"x":0.106,"y":2533},{"x":0.1085,"y":2528},{"x":0.111,"y":2695},{"x":0.1135,"y":2651},{"x":0.116,"y":2551},{"x":0.1185,"y":2654},{"x":0.121,"y":2568},{"x":0.1235,"y":2570},{"x":0.126,"y":2584},{"x":0.1285,"y":2682},
{"x":0.131,"y":2560},{"x":0.1335,"y":2519},{"x":0.136,"y":2634},{"x":0.1385,"y":2634},{"x":0.141,"y":2628},{"x":0.1435,"y":2589},{"x":0.146,"y":2516},{"x":0.1485,"y":2613},{"x":0.151,"y":2688},{"x":0.1535,"y":2608},{"x":0.156,"y":2651},{"x":0.1585,"y":2545},
{"x":0.161,"y":2615},{"x":0.1635,"y":2697},{"x":0.166,"y":2667},{"x":0.1685,"y":2659},{"x":0.171,"y":2601},{"x":0.1735,"y":2603},{"x":0.176,"y":2616},{"x":0.1785,"y":2502},{"x":0.181,"y":2514},{"x":0.1835,"y":2598},{"x":0.186,"y":2581},{"x":0.1885,"y":2661},
{"x":0.191,"y":2615},{"x":0.1935,"y":2701},{"x":0.196,"y":2696},{"x":0.1985,"y":2663},{"x":0.201,"y":2629},{"x":0.2035,"y":2597},{"x":0.206,"y":2575},{"x":0.2085,"y":2621},{"x":0.211,"y":2543},{"x":0.2135,"y":2596},{"x":0.216,"y":2569},{"x":0.2185,"y":2582},
{"x":0.221,"y":2672},{"x":0.2235,"y":2694},{"x":0.226,"y":2644},{"x":0.2285,"y":2502},{"x":0.231,"y":2513},{"x":0.2335,"y":2588},{"x":0.236,"y":2512},{"x":0.2385,"y":2584},{"x":0.241,"y":2684},{"x":0.2435,"y":2580},{"x":0.246,"y":2656},{"x":0.2485,"y":2586},
{"x":0.251,"y":2697},{"x":0.2535,"y":2668},{"x":0.256,"y":2668},{"x":0.2585,"y":2670},{"x":0.261,"y":2680},{"x":0.2635,"y":2546},{"x":0.266,"y":2623},{"x":0.2685,"y":2554},{"x":0.271,"y":2675},{"x":0.2735,"y":2513},{"x":0.276,"y":2590},{"x":0.2785,"y":2522},
{"x":0.281,"y":2653},{"x":0.2835,"y":2559},{"x":0.286,"y":2511},{"x":0.2885,"y":2576},{"x":0.291,"y":2626},{"x":0.2935,"y":2572},{"x":0.296,"y":2600},{"x":0.2985,"y":2597},{"x":0.301,"y":2576},{"x":0.3035,"y":2631},{"x":0.306,"y":2611},{"x":0.3085,"y":2673},
{"x":-0.3178,"y":2532},{"x":-0.3153,"y":2545},{"x":-0.3128,"y":2638},{"x":-0.3103,"y":2679},{"x":-0.3078,"y":2565},{"x":-0.3053,"y":2576},{"x":-0.3028,"y":2650},{"x":-0.3003,"y":2564},{"x":-0.2978,"y":2568},{"x":-0.2953,"y":2591},{"x":-0.2928,"y":2556},{"x":-0.2903,"y":2713},
{"x":-0.2878,"y":2603},{"x":-0.2853,"y":2637},{"x":-0.2828,"y":2676},{"x":-0.2803,"y":2546},{"x":-0.2778,"y":2641},{"x":-0.2753,"y":2699},{"x":-0.2728,"y":2703},{"x":-0.2703,"y":2729},{"x":-0.2678,"y":2714},{"x":-0.2653,"y":2604},{"x":-0.2628,"y":2647},{"x":-0.2603,"y":2543},
{"x":-0.2578,"y":2622},{"x":-0.2553,"y":2571},{"x":-0.2528,"y":2618},{"x":-0.2503,"y":2541},{"x":-0.2478,"y":2604},{"x":-0.2453,"y":2646},{"x":-0.2428,"y":2533},{"x":-0.2403,"y":2554},{"x":-0.2378,"y":2697},{"x":-0.2353,"y":2687},{"x":-0.2328,"y":2621},{"x":-0.2303,"y":2564},
{"x":-0.2278,"y":2569},{"x":-0.2253,"y":2601},{"x":-0.2228,"y":2625},{"x":-0.2203,"y":2588},{"x":-0.2178,"y":2534},{"x":-0.2153,"y":2557},{"x":-0.2128,"y":2716},{"x":-0.2103,"y":2623},{"x":-0.2078,"y":2573},{"x":-0.2053,"y":2628},{"x":-0.2028,"y":2609},{"x":-0.2003,"y":2681},
{"x":-0.1978,"y":2577},{"x":-0.1953,"y":2654},{"x":-0.1928,"y":2594},{"x":-0.1903,"y":2572},{"x":-0.1878,"y":2619},{"x":-0.1853,"y":2550},{"x":-0.1828,"y":2673},{"x":-0.1803,"y":2722},{"x":-0.1778,"y":2666},{"x":-0.1753,"y":2675},{"x":-0.1728,"y":2535},{"x":-0.1703,"y":2562},
{"x":-0.1678,"y":2554},{"x":-0.1653,"y":2695},{"x":-0.1628,"y":2677},{"x":-0.1603,"y":2553},{"x":-0.1578,"y":2690},{"x":-0.1553,"y":2638},{"x":-0.1528,"y":2682},{"x":-0.1503,"y":2585},{"x":-0.1478,"y":2713},{"x":-0.1453,"y":2602},{"x":-0.1428,"y":2628},{"x":-0.1403,"y":2608},
{"x":-0.1378,"y":2671},{"x":-0.1353,"y":2710},{"x":-0.1328,"y":2578},{"x":-0.1303,"y":2663},{"x":-0.1278,"y":2652},{"x":-0.1253,"y":2580},{"x":-0.1228,"y":2675},{"x":-0.1203,"y":2539},{"x":-0.1178,"y":2592},{"x":-0.1153,"y":2558},{"x":-0.1128,"y":2723},{"x":-0.1103,"y":2672},
{"x":-0.1078,"y":2714},{"x":-0.1053,"y":2607},{"x":-0.1028,"y":2667},{"x":-0.1003,"y":2680},{"x":-0.0978,"y":2574},{"x":-0.0953,"y":2635},{"x":-0.0928,"y":2658},{"x":-0.0903,"y":2620},{"x":-0.0878,"y":2556},{"x":-0.0853,"y":2712},{"x":-0.0828,"y":2593},{"x":-0.0803,"y":2569},
{"x":-0.0778,"y":2600},{"x":-0.0753,"y":2615},{"x":-0.0728,"y":2721},{"x":-0.0703,"y":2659},{"x":-0.0678,"y":2626},{"x":-0.0653,"y":2595},{"x":-0.0628,"y":2583},{"x":-0.0603,"y":2698},{"x":-0.0578,"y":2696},{"x":-0.0553,"y":2680},{"x":-0.0528,"y":2572},{"x":-0.0503,"y":2625},
{"x":-0.0478,"y":2590},{"x":-0.0453,"y":2544},{"x":-0.0428,"y":2625},{"x":-0.0403,"y":2591},{"x":-0.0378,"y":2553},{"x":-0.0353,"y":2694},{"x":-0.0328,"y":2668},{"x":-0.0303,"y":2686},{"x":-0.0278,"y":2613},{"x":-0.0253,"y":2707},{"x":-0.0228,"y":2561},{"x":-0.0203,"y":2545},
{"x":-0.0178,"y":2636},{"x":-0.0153,"y":2669},{"x":-0.0128,"y":2699},{"x":-0.0103,"y":2701},{"x":-0.0078,"y":2719},{"x":-0.0053,"y":2645},{"x":-0.0028,"y":2730},{"x":-0.0003,"y":2716},{"x":0.0022,"y":2624},{"x":0.0047,"y":2583},{"x":0.0072,"y":2696},{"x":0.0097,"y":2686},
{"x":0.0122,"y":2612},{"x":0.0147,"y":2698},{"x":0.0172,"y":2694},{"x":0.0197,"y":2670},{"x":0.0222,"y":2706},{"x":0.0247,"y":2548},{"x":0.0272,"y":2659},{"x":0.0297,"y":2624},{"x":0.0322,"y":2585},{"x":0.0347,"y":2716},{"x":0.0372,"y":2621},{"x":0.0397,"y":2563},
{"x":0.0422,"y":2559},{"x":0.0447,"y":2533},{"x":0.0472,"y":2548},{"x":0.0497,"y":2657},{"x":0.0522,"y":2615},{"x":0.0547,"y":2719},{"x":0.0572,"y":2639},{"x":0.0597,"y":2690},{"x":0.0622,"y":2644},{"x":0.0647,"y":2721},{"x":0.0672,"y":2658},{"x":0.0697,"y":2616},
{"x":0.0722,"y":2728},{"x":0.0747,"y":2708},{"x":0.0772,"y":2565},{"x":0.0797,"y":2575},{"x":0.0822,"y":2640},{"x":0.0847,"y":2697},{"x":0.0872,"y":2693},{"x":0.0897,"y":2661},{"x":0.0922,"y":2637},{"x":0.0947,"y":2674},{"x":0.0972,"y":2728},{"x":0.0997,"y":2705},
{"x":0.1022,"y":2546},{"x":0.1047,"y":2639},{"x":0.1072,"y":2689},{"x":0.1097,"y":2634},{"x":0.1122,"y":2653},{"x":0.1147,"y":2581},{"x":0.1172,"y":2685},{"x":0.1197,"y":2607},{"x":0.1222,"y":2668},{"x":0.1247,"y":2690},{"x":0.1272,"y":2642},{"x":0.1297,"y":2711},
{"x":0.1322,"y":2589},{"x":0.1347,"y":2539},{"x":0.1372,"y":2596},{"x":0.1397,"y":2587},{"x":0.1422,"y":2727},{"x":0.1447,"y":2700},{"x":0.1472,"y":2708},{"x":0.1497,"y":2567},{"x":0.1522,"y":2584},{"x":0.1547,"y":2709},{"x":0.1572,"y":2572},{"x":0.1597,"y":2624},
{"x":0.1622,"y":2580},{"x":0.1647,"y":2677},{"x":0.1672,"y":2549},{"x":0.1697,"y":2660},{"x":0.1722,"y":2634},{"x":0.1747,"y":2654},{"x":0.1772,"y":2591},{"x":0.1797,"y":2552},{"x":0.1822,"y":2684},{"x":0.1847,"y":2599},{"x":0.1872,"y":2609},{"x":0.1897,"y":2682},
{"x":0.1922,"y":2586},{"x":0.1947,"y":2723},{"x":0.1972,"y":2670},{"x":0.1997,"y":2704},{"x":0.2022,"y":2539},{"x":0.2047,"y":2590},{"x":0.2072,"y":2548},{"x":0.2097,"y":2655},{"x":0.2122,"y":2595},{"x":0.2147,"y":2581},{"x":0.2172,"y":2688},{"x":0.2197,"y":2627},
{"x":0.2222,"y":2604},{"x":0.2247,"y":2642},{"x":0.2272,"y":2706},{"x":0.2297,"y":2550},{"x":0.2322,"y":2669},{"x":0.2347,"y":2693},{"x":0.2372,"y":2662},{"x":0.2397,"y":2647},{"x":0.2422,"y":2540},{"x":0.2447,"y":2603},{"x":0.2472,"y":2636},{"x":0.2497,"y":2667},
{"x":0.2522,"y":2679},{"x":0.2547,"y":2564},{"x":0.2572,"y":2566},{"x":0.2597,"y":2582},{"x":0.2622,"y":2689},{"x":0.2647,"y":2637},{"x":0.2672,"y":2672},{"x":0.2697,"y":2718},{"x":0.2722,"y":2637},{"x":0.2747,"y":2671},{"x":0.2772,"y":2708},{"x":0.2797,"y":2568},
{"x":0.2822,"y":2594},{"x":0.2847,"y":2576},{"x":0.2872,"y":2649},{"x":0.2897,"y":2554},{"x":0.2922,"y":2701},{"x":0.2947,"y":2717},{"x":0.2972,"y":2625},{"x":0.2997,"y":2592},{"x":0.3022,"y":2563},{"x":0.3047,"y":2561},{"x":0.3072,"y":2542},{"x":0.3097,"y":2617}
]},
"mark": {"type": "point", "shape": "square", "filled": true, "size": 7, "color": "#000", "opacity": 1, "strokeWidth": 0}
},
{
"data": {"values": [
{"x":-0.319,"y":882},{"x":-0.3158,"y":891},{"x":-0.3126,"y":958},{"x":-0.3094,"y":1468},{"x":-0.3062,"y":1543},{"x":-0.303,"y":2004},{"x":-0.2998,"y":1954},{"x":-0.2966,"y":1198},{"x":-0.2934,"y":1545},{"x":-0.2902,"y":2010},
{"x":-0.287,"y":1996},{"x":-0.2838,"y":1841},{"x":-0.2806,"y":2094},{"x":-0.2774,"y":1433},{"x":-0.2742,"y":1294},{"x":-0.271,"y":2071},{"x":-0.2678,"y":1107},{"x":-0.2646,"y":2289},{"x":-0.2614,"y":2211},{"x":-0.2582,"y":1339},
{"x":-0.255,"y":2216},{"x":-0.2518,"y":1404},{"x":-0.2486,"y":1112},{"x":-0.2454,"y":890},{"x":-0.2422,"y":947},{"x":-0.239,"y":1376},{"x":-0.2358,"y":944},{"x":-0.2326,"y":1350},{"x":-0.2294,"y":2252},{"x":-0.2262,"y":1953},
{"x":-0.223,"y":1176},{"x":-0.2198,"y":1361},{"x":-0.2166,"y":2288},{"x":-0.2134,"y":2205},{"x":-0.2102,"y":1247},{"x":-0.207,"y":1886},{"x":-0.2038,"y":2238},{"x":-0.2006,"y":1746},{"x":-0.1974,"y":1594},{"x":-0.1942,"y":2167},
{"x":-0.191,"y":2224},{"x":-0.1878,"y":1536},{"x":-0.1846,"y":1980},{"x":-0.1814,"y":1592},{"x":-0.1782,"y":2161},{"x":-0.175,"y":2182},{"x":-0.1718,"y":938},{"x":-0.1686,"y":1298},{"x":-0.1654,"y":2083},{"x":-0.1622,"y":1275},
{"x":-0.159,"y":2011},{"x":-0.1558,"y":2002},{"x":-0.1526,"y":1933},{"x":-0.1494,"y":1042},{"x":-0.1462,"y":2042},{"x":-0.143,"y":2219},{"x":-0.1398,"y":1457},{"x":-0.1366,"y":1464},{"x":-0.1334,"y":1517},{"x":-0.1302,"y":1884},
{"x":-0.127,"y":2232},{"x":-0.1238,"y":1654},{"x":-0.1206,"y":987},{"x":-0.1174,"y":1704},{"x":-0.1142,"y":1305},{"x":-0.111,"y":2107},{"x":-0.1078,"y":1643},{"x":-0.1046,"y":920},{"x":-0.1014,"y":1160},{"x":-0.0982,"y":1230},
{"x":-0.095,"y":1768},{"x":-0.0918,"y":1751},{"x":-0.0886,"y":1633},{"x":-0.0854,"y":2293},{"x":-0.0822,"y":2242},{"x":-0.079,"y":1798},{"x":-0.0758,"y":1955},{"x":-0.0726,"y":1211},{"x":-0.0694,"y":1637},{"x":-0.0662,"y":886},
{"x":-0.063,"y":925},{"x":-0.0598,"y":1194},{"x":-0.0566,"y":1506},{"x":-0.0534,"y":1806},{"x":-0.0502,"y":1979},{"x":-0.047,"y":1579},{"x":-0.0438,"y":2119},{"x":-0.0406,"y":1813},{"x":-0.0374,"y":2003},{"x":-0.0342,"y":1946},
{"x":-0.031,"y":1120},{"x":-0.0278,"y":946},{"x":-0.0246,"y":1363},{"x":-0.0214,"y":2294},{"x":-0.0182,"y":2248},{"x":-0.015,"y":1890},{"x":-0.0118,"y":2250},{"x":-0.0086,"y":1929},{"x":-0.0054,"y":1019},{"x":-0.0022,"y":1958},
{"x":0.001,"y":1251},{"x":0.0042,"y":1913},{"x":0.0074,"y":918},{"x":0.0106,"y":1149},{"x":0.0138,"y":1147},{"x":0.017,"y":1136},{"x":0.0202,"y":1058},{"x":0.0234,"y":2102},{"x":0.0266,"y":1564},{"x":0.0298,"y":2070},
{"x":0.033,"y":1096},{"x":0.0362,"y":2247},{"x":0.0394,"y":1877},{"x":0.0426,"y":2208},{"x":0.0458,"y":1286},{"x":0.049,"y":2047},{"x":0.0522,"y":2255},{"x":0.0554,"y":1977},{"x":0.0586,"y":1539},{"x":0.0618,"y":1992},
{"x":0.065,"y":1776},{"x":0.0682,"y":1804},{"x":0.0714,"y":1973},{"x":0.0746,"y":1487},{"x":0.0778,"y":1674},{"x":0.081,"y":1110},{"x":0.0842,"y":2301},{"x":0.0874,"y":2296},{"x":0.0906,"y":2260},{"x":0.0938,"y":2007},
{"x":0.097,"y":1972},{"x":0.1002,"y":1474},{"x":0.1034,"y":1583},{"x":0.1066,"y":2131},{"x":0.1098,"y":1972},{"x":0.113,"y":1461},{"x":0.1162,"y":1491},{"x":0.1194,"y":1701},{"x":0.1226,"y":1279},{"x":0.1258,"y":2023},
{"x":0.129,"y":2087},{"x":0.1322,"y":1328},{"x":0.1354,"y":2180},{"x":0.1386,"y":904},{"x":0.1418,"y":1048},{"x":0.145,"y":2066},{"x":0.1482,"y":1040},{"x":0.1514,"y":2036},{"x":0.1546,"y":2177},{"x":0.1578,"y":2297},
{"x":0.161,"y":2266},{"x":0.1642,"y":2049},{"x":0.1674,"y":2267},{"x":0.1706,"y":2061},{"x":0.1738,"y":973},{"x":0.177,"y":1586},{"x":0.1802,"y":2143},{"x":0.1834,"y":2056},{"x":0.1866,"y":906},{"x":0.1898,"y":1059},
{"x":0.193,"y":2108},{"x":0.1962,"y":1656},{"x":0.1994,"y":998},{"x":0.2026,"y":1796},{"x":0.2058,"y":1948},{"x":0.209,"y":1131},{"x":0.2122,"y":1024},{"x":0.2154,"y":1976},{"x":0.2186,"y":1526},{"x":0.2218,"y":1950},
{"x":0.225,"y":1142},{"x":0.2282,"y":1102},{"x":0.2314,"y":2271},{"x":0.2346,"y":2085},{"x":0.2378,"y":1301},{"x":0.241,"y":2095},{"x":0.2442,"y":1459},{"x":0.2474,"y":1478},{"x":0.2506,"y":1609},{"x":0.2538,"y":2215},
{"x":0.257,"y":1391},{"x":0.2602,"y":1034},{"x":0.2634,"y":2012},{"x":0.2666,"y":2008},{"x":0.2698,"y":1984},{"x":0.273,"y":1658},{"x":0.2762,"y":1010},{"x":0.2794,"y":1888},{"x":0.2826,"y":2244},{"x":0.2858,"y":1838},
{"x":0.289,"y":2082},{"x":0.2922,"y":1249},{"x":0.2954,"y":1899},{"x":0.2986,"y":2280},{"x":0.3018,"y":2151},{"x":0.305,"y":2116},{"x":0.3082,"y":1774},{"x":0.3114,"y":1791},{"x":0.3146,"y":1909},{"x":0.3178,"y":896},
{"x":-0.3185,"y":304},{"x":-0.3157,"y":326},{"x":-0.3129,"y":456},{"x":-0.3101,"y":650},{"x":-0.3073,"y":676},{"x":-0.3045,"y":528},{"x":-0.3017,"y":490},{"x":-0.2989,"y":555},{"x":-0.2961,"y":677},{"x":-0.2933,"y":533},
{"x":-0.2905,"y":522},{"x":-0.2877,"y":441},{"x":-0.2849,"y":597},{"x":-0.2821,"y":637},{"x":-0.2793,"y":589},{"x":-0.2765,"y":580},{"x":-0.2737,"y":517},{"x":-0.2709,"y":793},{"x":-0.2681,"y":687},{"x":-0.2653,"y":604},
{"x":-0.2625,"y":691},{"x":-0.2597,"y":628},{"x":-0.2569,"y":519},{"x":-0.2541,"y":323},{"x":-0.2513,"y":451},{"x":-0.2485,"y":618},{"x":-0.2457,"y":450},{"x":-0.2429,"y":608},{"x":-0.2401,"y":718},{"x":-0.2373,"y":489},
{"x":-0.2345,"y":546},{"x":-0.2317,"y":612},{"x":-0.2289,"y":791},{"x":-0.2261,"y":683},{"x":-0.2233,"y":572},{"x":-0.2205,"y":464},{"x":-0.2177,"y":708},{"x":-0.2149,"y":796},{"x":-0.2121,"y":694},{"x":-0.2093,"y":653},
{"x":-0.2065,"y":697},{"x":-0.2037,"y":674},{"x":-0.2009,"y":510},{"x":-0.1981,"y":694},{"x":-0.1953,"y":648},{"x":-0.1925,"y":665},{"x":-0.1897,"y":435},{"x":-0.1869,"y":590},{"x":-0.1841,"y":589},{"x":-0.1813,"y":582},
{"x":-0.1785,"y":533},{"x":-0.1757,"y":527},{"x":-0.1729,"y":481},{"x":-0.1701,"y":490},{"x":-0.1673,"y":557},{"x":-0.1645,"y":693},{"x":-0.1617,"y":646},{"x":-0.1589,"y":649},{"x":-0.1561,"y":667},{"x":-0.1533,"y":464},
{"x":-0.1505,"y":703},{"x":-0.1477,"y":715},{"x":-0.1449,"y":468},{"x":-0.1421,"y":755},{"x":-0.1393,"y":593},{"x":-0.1365,"y":607},{"x":-0.1337,"y":711},{"x":-0.1309,"y":394},{"x":-0.1281,"y":539},{"x":-0.1253,"y":566},
{"x":-0.1225,"y":819},{"x":-0.1197,"y":802},{"x":-0.1169,"y":708},{"x":-0.1141,"y":803},{"x":-0.1113,"y":710},{"x":-0.1085,"y":354},{"x":-0.1057,"y":491},{"x":-0.1029,"y":560},{"x":-0.1001,"y":709},{"x":-0.0973,"y":315},
{"x":-0.0945,"y":405},{"x":-0.0917,"y":553},{"x":-0.0889,"y":663},{"x":-0.0861,"y":369},{"x":-0.0833,"y":509},{"x":-0.0805,"y":689},{"x":-0.0777,"y":616},{"x":-0.0749,"y":384},{"x":-0.0721,"y":528},{"x":-0.0693,"y":485},
{"x":-0.0665,"y":523},{"x":-0.0637,"y":451},{"x":-0.0609,"y":613},{"x":-0.0581,"y":805},{"x":-0.0553,"y":715},{"x":-0.0525,"y":466},{"x":-0.0497,"y":717},{"x":-0.0469,"y":479},{"x":-0.0441,"y":481},{"x":-0.0413,"y":493},
{"x":-0.0385,"y":573},{"x":-0.0357,"y":473},{"x":-0.0329,"y":390},{"x":-0.0301,"y":534},{"x":-0.0273,"y":534},{"x":-0.0245,"y":529},{"x":-0.0217,"y":497},{"x":-0.0189,"y":603},{"x":-0.0161,"y":684},{"x":-0.0133,"y":579},
{"x":0.0091,"y":507},{"x":0.0119,"y":675},{"x":0.0147,"y":519},
{"x":0.0175,"y":309},{"x":0.0203,"y":366},{"x":0.0231,"y":504},{"x":0.0259,"y":657},{"x":0.0287,"y":726},{"x":0.0315,"y":519},{"x":0.0343,"y":820},{"x":0.0371,"y":808},{"x":0.0399,"y":730},{"x":0.0427,"y":530},
{"x":0.0455,"y":504},{"x":0.0483,"y":652},{"x":0.0511,"y":690},{"x":0.0539,"y":625},{"x":0.0567,"y":503},{"x":0.0595,"y":647},{"x":0.0623,"y":658},{"x":0.0651,"y":752},{"x":0.0679,"y":583},{"x":0.0707,"y":543},
{"x":0.0735,"y":592},{"x":0.0763,"y":600},{"x":0.0791,"y":663},{"x":0.0819,"y":356},{"x":0.0847,"y":493},{"x":0.0875,"y":576},{"x":0.0903,"y":490},{"x":0.0931,"y":553},{"x":0.0959,"y":661},{"x":0.0987,"y":810},
{"x":0.1015,"y":743},{"x":0.1043,"y":563},{"x":0.1071,"y":747},{"x":0.1099,"y":572},{"x":0.1127,"y":462},{"x":0.1155,"y":692},{"x":0.1183,"y":634},{"x":0.1211,"y":568},{"x":0.1239,"y":360},{"x":0.1267,"y":498},
{"x":0.1295,"y":608},{"x":0.1323,"y":716},{"x":0.1351,"y":472},{"x":0.1379,"y":351},{"x":0.1407,"y":486},{"x":0.1435,"y":527},{"x":0.1463,"y":483},{"x":0.1491,"y":506},{"x":0.1519,"y":670},{"x":0.1547,"y":487},
{"x":0.1575,"y":532},{"x":0.1603,"y":515},{"x":0.1631,"y":754},{"x":0.1659,"y":590},{"x":0.1687,"y":591},{"x":0.1715,"y":598},{"x":0.1743,"y":647},{"x":0.1771,"y":653},{"x":0.1799,"y":699},{"x":0.1827,"y":690},
{"x":0.1855,"y":623},{"x":0.1883,"y":487},{"x":0.1911,"y":534},{"x":0.1939,"y":532},{"x":0.1967,"y":513},{"x":0.1995,"y":717},{"x":0.2023,"y":477},{"x":0.2051,"y":465},{"x":0.2079,"y":712},{"x":0.2107,"y":433},
{"x":0.2135,"y":588},{"x":0.2163,"y":573},{"x":0.2191,"y":469},{"x":0.2219,"y":775},{"x":0.2247,"y":641},{"x":0.2275,"y":614},{"x":0.2303,"y":306},{"x":0.2331,"y":339},{"x":0.2359,"y":472},{"x":0.2387,"y":338},
{"x":0.2415,"y":470},{"x":0.2443,"y":794},{"x":0.2471,"y":690},{"x":0.2499,"y":621},{"x":0.2527,"y":471},{"x":0.2555,"y":814},{"x":0.2583,"y":769},{"x":0.2611,"y":621},{"x":0.2639,"y":517},{"x":0.2667,"y":787},
{"x":0.2695,"y":671},{"x":0.2723,"y":491},{"x":0.2751,"y":564},{"x":0.2779,"y":780},{"x":0.2807,"y":653},{"x":0.2835,"y":695},{"x":0.2863,"y":658},{"x":0.2891,"y":745},{"x":0.2919,"y":567},{"x":0.2947,"y":334},
{"x":0.2975,"y":465},{"x":0.3003,"y":714},{"x":0.3031,"y":463},{"x":0.3059,"y":701},{"x":0.3087,"y":699},{"x":0.3115,"y":688},{"x":0.3143,"y":606},{"x":0.3171,"y":707},
{"x":-0.178,"y":46},{"x":-0.083,"y":66},{"x":0.109,"y":44}
]},
"mark": {"type": "point", "shape": "square", "filled": true, "size": 4, "color": "#000", "opacity": 1, "strokeWidth": 0}
}
]
},
{
"data": {"values": [{}]},
"mark": {"type": "rule", "strokeDash": [7, 5], "color": "#3080e0", "strokeWidth": 1},
"encoding": {
  "x": {"datum": 0, "type": "quantitative", "scale": {"domain": [-0.3205, 0.3185], "nice": false, "zero": false},
    "axis": {"orient": "top", "values": [-0.32,-0.3,-0.28,-0.26,-0.24,-0.22,-0.2,-0.18,-0.16,-0.14,-0.12,-0.1,-0.08,-0.06,-0.04,-0.02,0,0.02,0.04,0.06,0.08,0.1,0.12,0.14,0.16,0.18,0.2,0.22,0.24,0.26,0.28,0.3],
      "labels": false,
      "tickSize": {"condition": {"test": "abs(datum.value*10 - round(datum.value*10)) < 0.001", "value": -8}, "value": -4},
      "title": "time_pha.qdp", "titleX": 0, "titleY": -8, "titleAlign": "left", "titleBaseline": "alphabetic"}},
  "y": {"datum": 0, "type": "quantitative", "scale": {"domain": [0, 3000], "nice": false, "zero": false},
    "axis": {"orient": "right", "values": [0,200,400,600,800,1000,1200,1400,1600,1800,2000,2200,2400,2600,2800,3000],
      "labels": false,
      "tickSize": {"condition": {"test": "datum.value % 1000 === 0", "value": -8}, "value": -4},
      "title": "allen 30-May-2015 14:28", "titleAngle": 0, "titleX": 83, "titleY": 605, "titleAlign": "right", "titleBaseline": "alphabetic", "titleFontSize": 10.5}},
  "y2": {"datum": 3000}
}
}
]
}
